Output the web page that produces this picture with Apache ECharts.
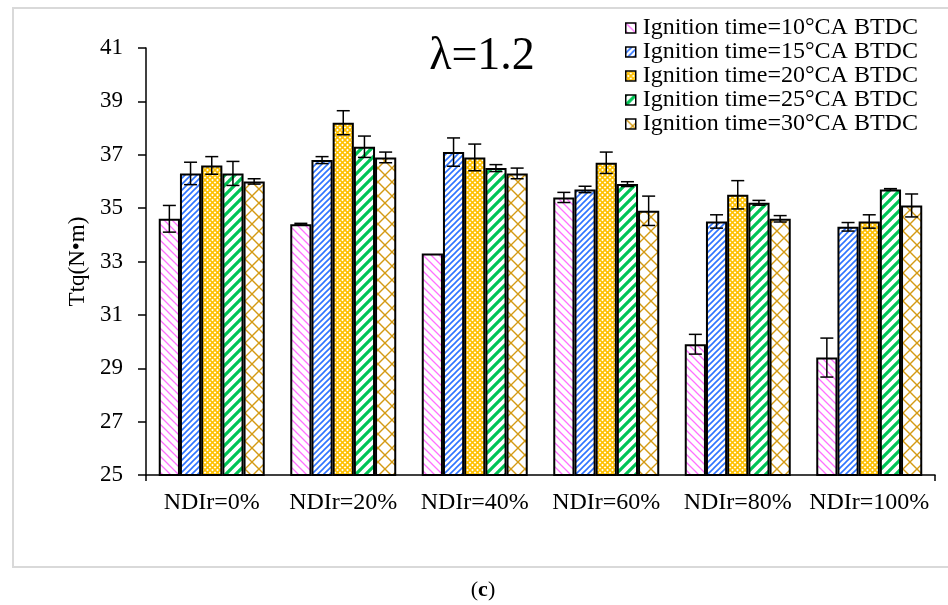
<!DOCTYPE html>
<html>
<head>
<meta charset="utf-8">
<script src="https://cdn.jsdelivr.net/npm/echarts@6/dist/echarts.min.js"></script>
<style>
  html, body { margin: 0; padding: 0; background: #fff; }
  #chart { width: 948px; height: 605px; }
</style>
</head>
<body>
<div id="chart"></div>
<script>
// Torque at lambda = 1.2 for each NDIr ratio and ignition timing
const categories = ['NDIr=0%', 'NDIr=20%', 'NDIr=40%', 'NDIr=60%', 'NDIr=80%', 'NDIr=100%'];
const seriesNames = [
  'Ignition time=10°CA BTDC',
  'Ignition time=15°CA BTDC',
  'Ignition time=20°CA BTDC',
  'Ignition time=25°CA BTDC',
  'Ignition time=30°CA BTDC'
];
const torque10 = [34.6, 34.4, 33.3, 35.4, 29.9, 29.4];
const torque15 = [36.3, 36.8, 37.1, 35.7, 34.5, 34.3];
const torque20 = [36.6, 38.2, 36.9, 36.7, 35.5, 34.5];
const torque25 = [36.3, 37.3, 36.5, 35.9, 35.2, 35.7];
const torque30 = [36.0, 36.9, 36.3, 34.9, 34.6, 35.1];
const err10 = [0.50, 0.03, 0.00, 0.19, 0.37, 0.73];
const err15 = [0.42, 0.13, 0.53, 0.12, 0.25, 0.16];
const err20 = [0.33, 0.45, 0.50, 0.40, 0.53, 0.25];
const err25 = [0.45, 0.40, 0.13, 0.09, 0.09, 0.03];
const err30 = [0.10, 0.20, 0.20, 0.55, 0.12, 0.43];
const yTicks = { min: 25, max: 41, step: 2 };

const values = [torque10, torque15, torque20, torque25, torque30];
const errors = [err10, err15, err20, err25, err30];

const FONT = '"Liberation Serif", "Times New Roman", serif';
const GAP = 0.194;

// Hatch fills drawn on small tiles
function tile(size, draw) {
  const c = document.createElement('canvas');
  c.width = size; c.height = size;
  const ctx = c.getContext('2d');
  ctx.fillStyle = '#fff';
  ctx.fillRect(0, 0, size, size);
  draw(ctx, size);
  return c;
}
function diagUp(ctx, s) { // "/" direction
  ctx.beginPath();
  ctx.moveTo(-1, s + 1); ctx.lineTo(s + 1, -1);
  ctx.moveTo(-1 - s, s + 1); ctx.lineTo(1, -1);
  ctx.moveTo(s - 1, s + 1); ctx.lineTo(2 * s + 1, -1);
  ctx.stroke();
}
function diagDown(ctx, s) { // "\" direction
  ctx.beginPath();
  ctx.moveTo(-1, -1); ctx.lineTo(s + 1, s + 1);
  ctx.moveTo(-1 - s, -1); ctx.lineTo(1, s + 1);
  ctx.moveTo(s - 1, -1); ctx.lineTo(2 * s + 1, s + 1);
  ctx.stroke();
}
const patterns = [
  tile(8, (ctx, s) => { ctx.strokeStyle = '#ff70ff'; ctx.lineWidth = 1.3; diagDown(ctx, s); }),
  tile(6, (ctx, s) => { ctx.strokeStyle = '#2f74ff'; ctx.lineWidth = 1.6; diagUp(ctx, s); }),
  tile(5, (ctx, s) => { ctx.strokeStyle = '#ffc000'; ctx.lineWidth = 1.6; diagUp(ctx, s); diagDown(ctx, s); }),
  tile(10, (ctx, s) => { ctx.strokeStyle = '#00c455'; ctx.lineWidth = 3.2; diagUp(ctx, s); }),
  tile(14, (ctx, s) => { ctx.strokeStyle = '#d49a14'; ctx.lineWidth = 1.4; diagUp(ctx, s); diagDown(ctx, s); })
];

const barSeries = seriesNames.map((name, i) => ({
  name: name,
  type: 'bar',
  xAxisIndex: 0,
  barGap: '0%',
  barCategoryGap: (GAP * 100) + '%',
  data: values[i],
  itemStyle: {
    color: { image: patterns[i], repeat: 'repeat' },
    borderColor: '#000',
    borderWidth: 2
  },
  emphasis: { disabled: true }
}));

const errData = [];
values.forEach((vals, si) => {
  vals.forEach((v, ci) => errData.push([ci, si, v, errors[si][ci]]));
});

const errorSeries = {
  type: 'custom',
  xAxisIndex: 0,
  data: errData,
  z: 10,
  silent: true,
  renderItem: function (params, api) {
    const ci = api.value(0), si = api.value(1), v = api.value(2), e = api.value(3);
    if (!(e > 0)) return null;
    const band = api.size([1, 0])[0];
    const bw = band * (1 - GAP) / seriesNames.length;
    const cx = api.coord([ci, v])[0] + (si - (seriesNames.length - 1) / 2) * bw;
    const yTop = api.coord([ci, v + e])[1];
    const yBot = api.coord([ci, v - e])[1];
    const cap = 6.5;
    const st = { stroke: '#000', lineWidth: 1.5 };
    return {
      type: 'group',
      children: [
        { type: 'line', shape: { x1: cx, y1: yTop, x2: cx, y2: yBot }, style: st },
        { type: 'line', shape: { x1: cx - cap, y1: yTop, x2: cx + cap, y2: yTop }, style: st },
        { type: 'line', shape: { x1: cx - cap, y1: yBot, x2: cx + cap, y2: yBot }, style: st }
      ]
    };
  }
};

const chart = echarts.init(document.getElementById('chart'), null, { renderer: 'canvas' });
chart.setOption({
  animation: false,
  backgroundColor: '#fff',
  grid: { left: 146, right: 13, top: 48, bottom: 130, containLabel: false },
  legend: {
    data: seriesNames.map(n => ({ name: n, icon: 'rect' })),
    orient: 'vertical',
    left: 625,
    top: 16,
    itemWidth: 10,
    itemHeight: 10,
    itemGap: 0,
    padding: 0,
    itemStyle: { borderColor: '#000', borderWidth: 1.5 },
    textStyle: { fontFamily: FONT, fontSize: 24, color: '#000', lineHeight: 23.2, padding: [0, 0, 0, 2] },
    selectedMode: false
  },
  xAxis: [
    {
      type: 'category',
      position: 'bottom',
      data: categories,
      axisLine: { lineStyle: { color: '#000', width: 1.5 } },
      axisTick: { alignWithLabel: true, length: 6, lineStyle: { color: '#000', width: 1.5 } },
      axisLabel: { fontFamily: FONT, fontSize: 24, color: '#000', margin: 16, interval: 0 },
      splitLine: { show: false }
    },
    {
      type: 'value',
      position: 'bottom',
      min: 0, max: 1, interval: 1,
      axisLine: { show: false },
      axisTick: { show: true, length: 6, lineStyle: { color: '#000', width: 1.5 } },
      axisLabel: { show: false },
      splitLine: { show: false }
    }
  ],
  yAxis: {
    type: 'value',
    min: yTicks.min,
    max: yTicks.max,
    interval: yTicks.step,
    name: 'Ttq(N•m)',
    nameLocation: 'middle',
    nameGap: 53,
    nameTextStyle: { fontFamily: FONT, fontSize: 23, color: '#000' },
    axisLine: { show: true, lineStyle: { color: '#000', width: 1.5 } },
    axisTick: { show: true, length: 8, lineStyle: { color: '#000', width: 1.5 } },
    axisLabel: { fontFamily: FONT, fontSize: 23, color: '#000', margin: 23 },
    splitLine: { show: false }
  },
  series: barSeries.concat([errorSeries]),
  graphic: [
    {
      type: 'rect',
      silent: true,
      z: -10,
      shape: { x: 13, y: 8, width: 960, height: 559 },
      style: { fill: 'none', stroke: '#d9d9d9', lineWidth: 2 }
    },
    {
      type: 'text',
      x: 482, y: 57,
      style: {
        text: 'λ=1.2',
        font: '46px ' + FONT,
        fill: '#000',
        align: 'center',
        verticalAlign: 'middle'
      }
    },
    {
      type: 'text',
      x: 483, y: 590,
      style: {
        text: '({b|c})',
        font: '22px ' + FONT,
        fill: '#000',
        align: 'center',
        verticalAlign: 'middle',
        rich: { b: { fontFamily: FONT, fontSize: 22, fontWeight: 'bold', fill: '#000' } }
      }
    }
  ]
});
</script>
</body>
</html>
